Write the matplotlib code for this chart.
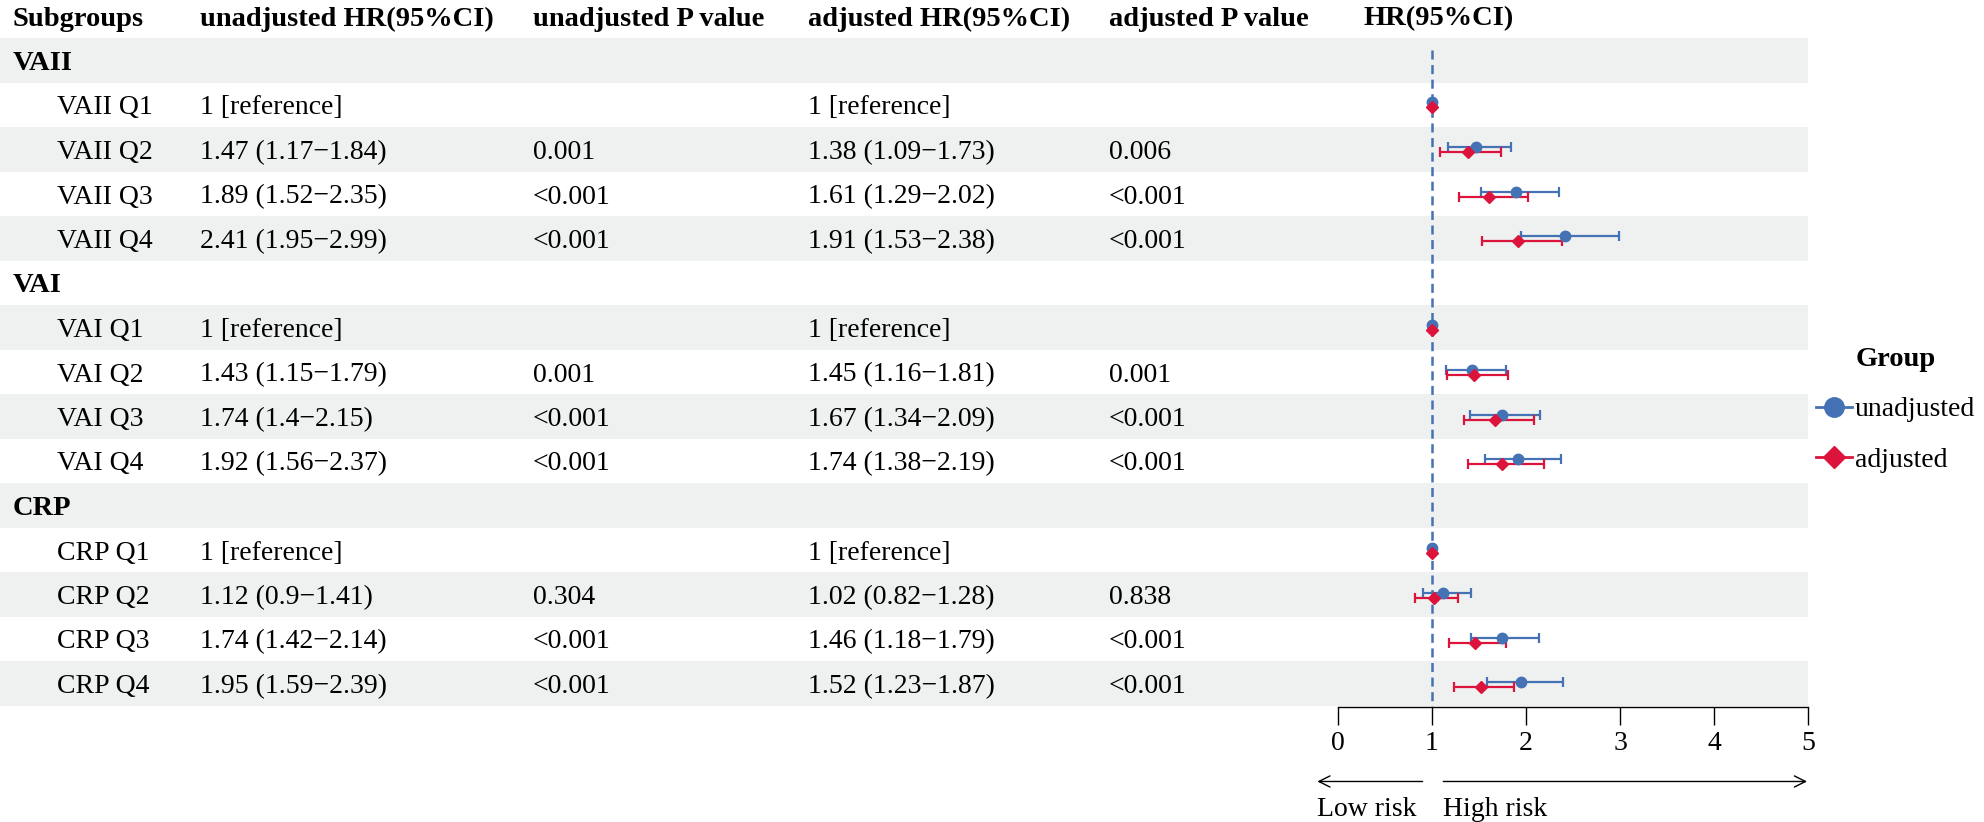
import matplotlib
matplotlib.use("Agg")
import matplotlib.pyplot as plt
from matplotlib.lines import Line2D
import numpy as np

plt.rcParams['font.family'] = ['Liberation Serif', 'DejaVu Serif']
plt.rcParams['font.size'] = 20
plt.rcParams['lines.scale_dashes'] = False

# data
groups = ["VAII", "VAI", "CRP"]
quartiles = ["Q1", "Q2", "Q3", "Q4"]

unadj_hr = [[1.00, 1.47, 1.89, 2.41], [1.00, 1.43, 1.74, 1.92], [1.00, 1.12, 1.74, 1.95]]
unadj_lo = [[1.00, 1.17, 1.52, 1.95], [1.00, 1.15, 1.40, 1.56], [1.00, 0.90, 1.42, 1.59]]
unadj_hi = [[1.00, 1.84, 2.35, 2.99], [1.00, 1.79, 2.15, 2.37], [1.00, 1.41, 2.14, 2.39]]
unadj_p = [["", "0.001", "<0.001", "<0.001"],
           ["", "0.001", "<0.001", "<0.001"],
           ["", "0.304", "<0.001", "<0.001"]]

adj_hr = [[1.00, 1.38, 1.61, 1.91], [1.00, 1.45, 1.67, 1.74], [1.00, 1.02, 1.46, 1.52]]
adj_lo = [[1.00, 1.09, 1.29, 1.53], [1.00, 1.16, 1.34, 1.38], [1.00, 0.82, 1.18, 1.23]]
adj_hi = [[1.00, 1.73, 2.02, 2.38], [1.00, 1.81, 2.09, 2.19], [1.00, 1.28, 1.79, 1.87]]
adj_p = [["", "0.006", "<0.001", "<0.001"],
         ["", "0.001", "<0.001", "<0.001"],
         ["", "0.838", "<0.001", "<0.001"]]

headers = ["Subgroups", "unadjusted HR(95%CI)", "unadjusted P value",
           "adjusted HR(95%CI)", "adjusted P value", "HR(95%CI)"]

BLUE = "#4472B4"
RED = "#DC143C"
BAND = "#EEF1F0"

W, H = 1984, 822
ROW0, ROWH = 60.5, 44.5          # pixel centre of the first row, row height
col_x = [13, 200, 533, 808, 1109, 1363]


def fmt_hr(hr, lo, hi):
    if lo == hi:
        return "1 [reference]"
    return f"{hr:g} ({lo:g}\u2212{hi:g})"


fig = plt.figure(figsize=(W / 100, H / 100), dpi=100)

# table layer: x in pixels, y in rows
bg = fig.add_axes([0, 0, 1, 1])
bg.set_xlim(0, W)
bg.set_ylim((H - ROW0) / ROWH, -ROW0 / ROWH)
bg.axis("off")

# forest layer: x = HR, y = row
ax = fig.add_axes([1338 / W, (H - 707) / H, 470 / W, (707 - 38) / H])
ax.set_xlim(0, 5)
ax.set_ylim(14.5, -0.5)
ax.patch.set_alpha(0)
for s in ["top", "right", "left"]:
    ax.spines[s].set_visible(False)
ax.spines["bottom"].set_linewidth(1)
ax.set_yticks([])
ax.set_xticks(range(6))
ax.tick_params(axis="x", length=13, width=1, pad=4, labelsize=20)

for j, h in enumerate(headers):
    bg.text(col_x[j], -1, h, ha="left", va="center_baseline",
            fontweight="bold", fontsize=20.5)

row = 0
ys, u_hr, u_lo, u_hi, a_hr, a_lo, a_hi = [], [], [], [], [], [], []
for g, name in enumerate(groups):
    if row % 2 == 0:
        bg.barh(row, 1808, height=1, left=0, color=BAND, zorder=0)
    bg.text(col_x[0], row, name, ha="left", va="center_baseline",
            fontweight="bold", fontsize=20.5)
    row += 1
    for q, qn in enumerate(quartiles):
        if row % 2 == 0:
            bg.barh(row, 1808, height=1, left=0, color=BAND, zorder=0)
        bg.text(57, row, f"{name} {qn}", ha="left", va="center_baseline")
        bg.text(col_x[1], row, fmt_hr(unadj_hr[g][q], unadj_lo[g][q], unadj_hi[g][q]),
                ha="left", va="center_baseline")
        bg.text(col_x[2], row, unadj_p[g][q], ha="left", va="center_baseline")
        bg.text(col_x[3], row, fmt_hr(adj_hr[g][q], adj_lo[g][q], adj_hi[g][q]),
                ha="left", va="center_baseline")
        bg.text(col_x[4], row, adj_p[g][q], ha="left", va="center_baseline")
        ys.append(row)
        u_hr.append(unadj_hr[g][q]); u_lo.append(unadj_lo[g][q]); u_hi.append(unadj_hi[g][q])
        a_hr.append(adj_hr[g][q]); a_lo.append(adj_lo[g][q]); a_hi.append(adj_hi[g][q])
        row += 1

ys = np.array(ys, dtype=float)
u_hr, u_lo, u_hi = np.array(u_hr), np.array(u_lo), np.array(u_hi)
a_hr, a_lo, a_hi = np.array(a_hr), np.array(a_lo), np.array(a_hi)
off = 0.056

ax.vlines(1, -0.24, 14.5, color=BLUE, lw=1.8, linestyles=[(0, (6.5, 4))], zorder=1)

m = u_lo != u_hi
ax.errorbar(u_hr[m], ys[m] - off, xerr=[u_hr[m] - u_lo[m], u_hi[m] - u_hr[m]],
            fmt="none", ecolor=BLUE, elinewidth=1.6, capsize=3.6, capthick=1.6, zorder=2)
ax.errorbar(a_hr[m], ys[m] + off, xerr=[a_hr[m] - a_lo[m], a_hi[m] - a_hr[m]],
            fmt="none", ecolor=RED, elinewidth=1.6, capsize=3.6, capthick=1.6, zorder=3)
ax.plot(u_hr, ys - off, "o", color=BLUE, ms=7.5, zorder=4)
ax.plot(a_hr, ys + off, "D", color=RED, ms=6, zorder=5)

# risk arrows under the axis
arrow = dict(arrowstyle="->,head_length=0.4,head_width=0.2", lw=1, color="black",
             shrinkA=0, shrinkB=0)
ax.annotate("", xy=(-0.22, 16.17), xytext=(0.9, 16.17), arrowprops=arrow,
            annotation_clip=False)
ax.annotate("", xy=(4.99, 16.17), xytext=(1.12, 16.17), arrowprops=arrow,
            annotation_clip=False)
ax.text(-0.22, 16.73, "Low risk", ha="left", va="center_baseline", clip_on=False)
ax.text(1.12, 16.73, "High risk", ha="left", va="center_baseline", clip_on=False)

handles = [Line2D([0], [0], color=BLUE, marker="o", ms=14, lw=2),
           Line2D([0], [0], color=RED, marker="D", ms=11, lw=2)]
fig.legend(handles, ["unadjusted", "adjusted"], title="Group",
           title_fontproperties={"weight": "bold", "size": 20.5},
           loc="center left", bbox_to_anchor=(1816 / W, 1 - 410 / H),
           frameon=False, handlelength=1.3, handletextpad=0.1, labelspacing=0.9,
           borderpad=0, borderaxespad=0)

fig.savefig("out.png", dpi=100)
